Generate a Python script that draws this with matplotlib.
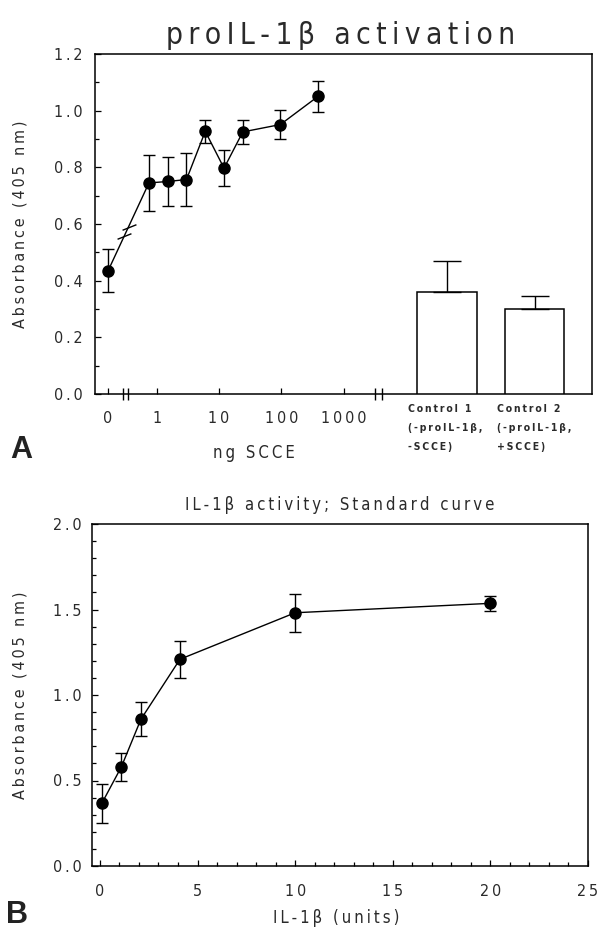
import numpy as np
import matplotlib
matplotlib.use("Agg")
import matplotlib.pyplot as plt
from matplotlib.ticker import MultipleLocator, FuncFormatter

plt.rcParams["font.family"] = ["DejaVu Sans"]
plt.rcParams["font.stretch"] = "condensed"
plt.rcParams["text.color"] = "#2a2a2a"

# --- panel A: proIL-1beta activation by SCCE ---
scce_ng = [0, 0.75, 1.5, 3, 6, 12, 24, 96, 384]
abs_a = [0.435, 0.745, 0.75, 0.757, 0.927, 0.797, 0.925, 0.951, 1.05]
err_a = [0.075, 0.10, 0.088, 0.095, 0.04, 0.063, 0.042, 0.05, 0.053]
ctrl_labels = ["Control 1\n(-proIL-1β,\n-SCCE)", "Control 2\n(-proIL-1β,\n+SCCE)"]
ctrl_abs = [0.36, 0.30]
ctrl_err = [0.11, 0.045]
xtick_a = ["0", "1", "10", "100", "1000"]

# --- panel B: IL-1beta standard curve ---
il1b_units = [0.1, 1.1, 2.1, 4.1, 10, 20]
abs_b = [0.367, 0.58, 0.858, 1.209, 1.481, 1.536]
err_b = [0.113, 0.08, 0.10, 0.108, 0.11, 0.043]

W, H = 597, 938
fig = plt.figure(figsize=(W / 100, H / 100), dpi=100)


def box(l, t, r, b):
    # pixel box -> figure fraction
    return [l / W, 1 - b / H, (r - l) / W, (b - t) / H]


def sp(s):
    # wide letter spacing like the plotter font
    return "\u2009".join(s)


def fx(x):
    return x / W


def fy(y):
    return 1 - y / H


def style_axes(ax, xpad, ypad):
    for s in ax.spines.values():
        s.set_linewidth(1.1)
    ax.tick_params(which="both", direction="in", top=False, right=False,
                   width=0.9, labelsize=11.5, labelcolor="#2a2a2a")
    ax.tick_params(axis="x", which="both", pad=xpad)
    ax.tick_params(axis="y", which="both", pad=ypad)
    ax.tick_params(which="major", length=4)
    ax.tick_params(which="minor", length=3)
    ax.yaxis.set_major_formatter(FuncFormatter(lambda v, p: sp(f"{v:.1f}")))


# ===== A =====
ZERO = -0.78  # where "0" sits left of the log axis
ax = fig.add_axes(box(95, 54, 592, 394))
dose = np.array(scce_ng, float)
xpos = np.where(dose > 0, np.log10(np.where(dose > 0, dose, 1)), ZERO)

ax.errorbar(xpos, abs_a, yerr=err_a, fmt="o-", color="k", ms=8, lw=1,
            elinewidth=1, capsize=4, capthick=1, zorder=4)

# break marks on the first segment
bx = np.array([-0.52, -0.45])
by = np.interp(bx, xpos[:2], abs_a[:2])
ax.plot(bx, by, ls="none", marker=[(-1, -0.4), (1, 0.4)], ms=10, mew=1,
        color="k", zorder=5)

# axis breaks
ax.plot([-0.54, -0.46, 3.50, 3.61], [0, 0, 0, 0], ls="none", marker="|",
        ms=9, mew=1, color="k", clip_on=False, zorder=5)

bar_x = [4.655, 6.06]
ax.bar(bar_x, ctrl_abs, width=0.95, color="white", edgecolor="k",
       linewidth=1.1, zorder=3)
ax.errorbar(bar_x, ctrl_abs, yerr=[np.zeros(len(ctrl_err)), ctrl_err],
            fmt="none", ecolor="k", elinewidth=1, capsize=10, capthick=1,
            zorder=3)

ax.set_xlim(-0.99, 6.98)
ax.set_ylim(0, 1.2)
ax.set_xticks([ZERO, 0, 1, 2, 3], [sp(t) for t in xtick_a])
ax.yaxis.set_major_locator(MultipleLocator(0.2))
ax.yaxis.set_minor_locator(MultipleLocator(0.1))
style_axes(ax, 12, 9)

for xl, lab in zip([408, 497], ctrl_labels):
    fig.text(fx(xl), fy(404), "\n".join(sp(l) for l in lab.split("\n")),
             fontsize=7.5, fontweight="bold", ha="left", va="top",
             linespacing=2.1)

fig.text(fx(341), fy(36), sp("proIL-1β activation"), fontsize=21.5,
         fontweight="light", ha="center", va="center")
fig.text(fx(20), fy(224), sp("Absorbance (405 nm)"), fontsize=11.5,
         rotation=90, ha="center", va="center")
fig.text(fx(254), fy(453), sp("ng SCCE"), fontsize=12, ha="center",
         va="center")
fig.text(fx(21), fy(450), "A", fontsize=22, fontweight="bold",
         family=["Liberation Sans", "DejaVu Sans"], ha="center",
         va="center", color="#222222")

# ===== B =====
axb = fig.add_axes(box(92.5, 524, 588, 866))
axb.errorbar(il1b_units, abs_b, yerr=err_b, fmt="o-", color="k", ms=8,
             lw=1, elinewidth=1, capsize=4, capthick=1, zorder=4)
axb.set_xlim(-0.38, 25)
axb.set_ylim(0, 2.0)
axb.xaxis.set_major_locator(MultipleLocator(5))
axb.xaxis.set_minor_locator(MultipleLocator(1))
axb.yaxis.set_major_locator(MultipleLocator(0.5))
axb.yaxis.set_minor_locator(MultipleLocator(0.1))
style_axes(axb, 13, 8)
axb.xaxis.set_major_formatter(FuncFormatter(lambda v, p: sp(f"{v:.0f}")))

fig.text(fx(340), fy(505), sp("IL-1β activity; Standard curve"),
         fontsize=12, ha="center", va="center")
fig.text(fx(20), fy(695), sp("Absorbance (405 nm)"), fontsize=11.5,
         rotation=90, ha="center", va="center")
fig.text(fx(336), fy(918), sp("IL-1β (units)"), fontsize=12,
         ha="center", va="center")
fig.text(fx(17), fy(915), "B", fontsize=22, fontweight="bold",
         family=["Liberation Sans", "DejaVu Sans"], ha="center",
         va="center", color="#222222")

fig.savefig("out.png", dpi=100, facecolor="white")
